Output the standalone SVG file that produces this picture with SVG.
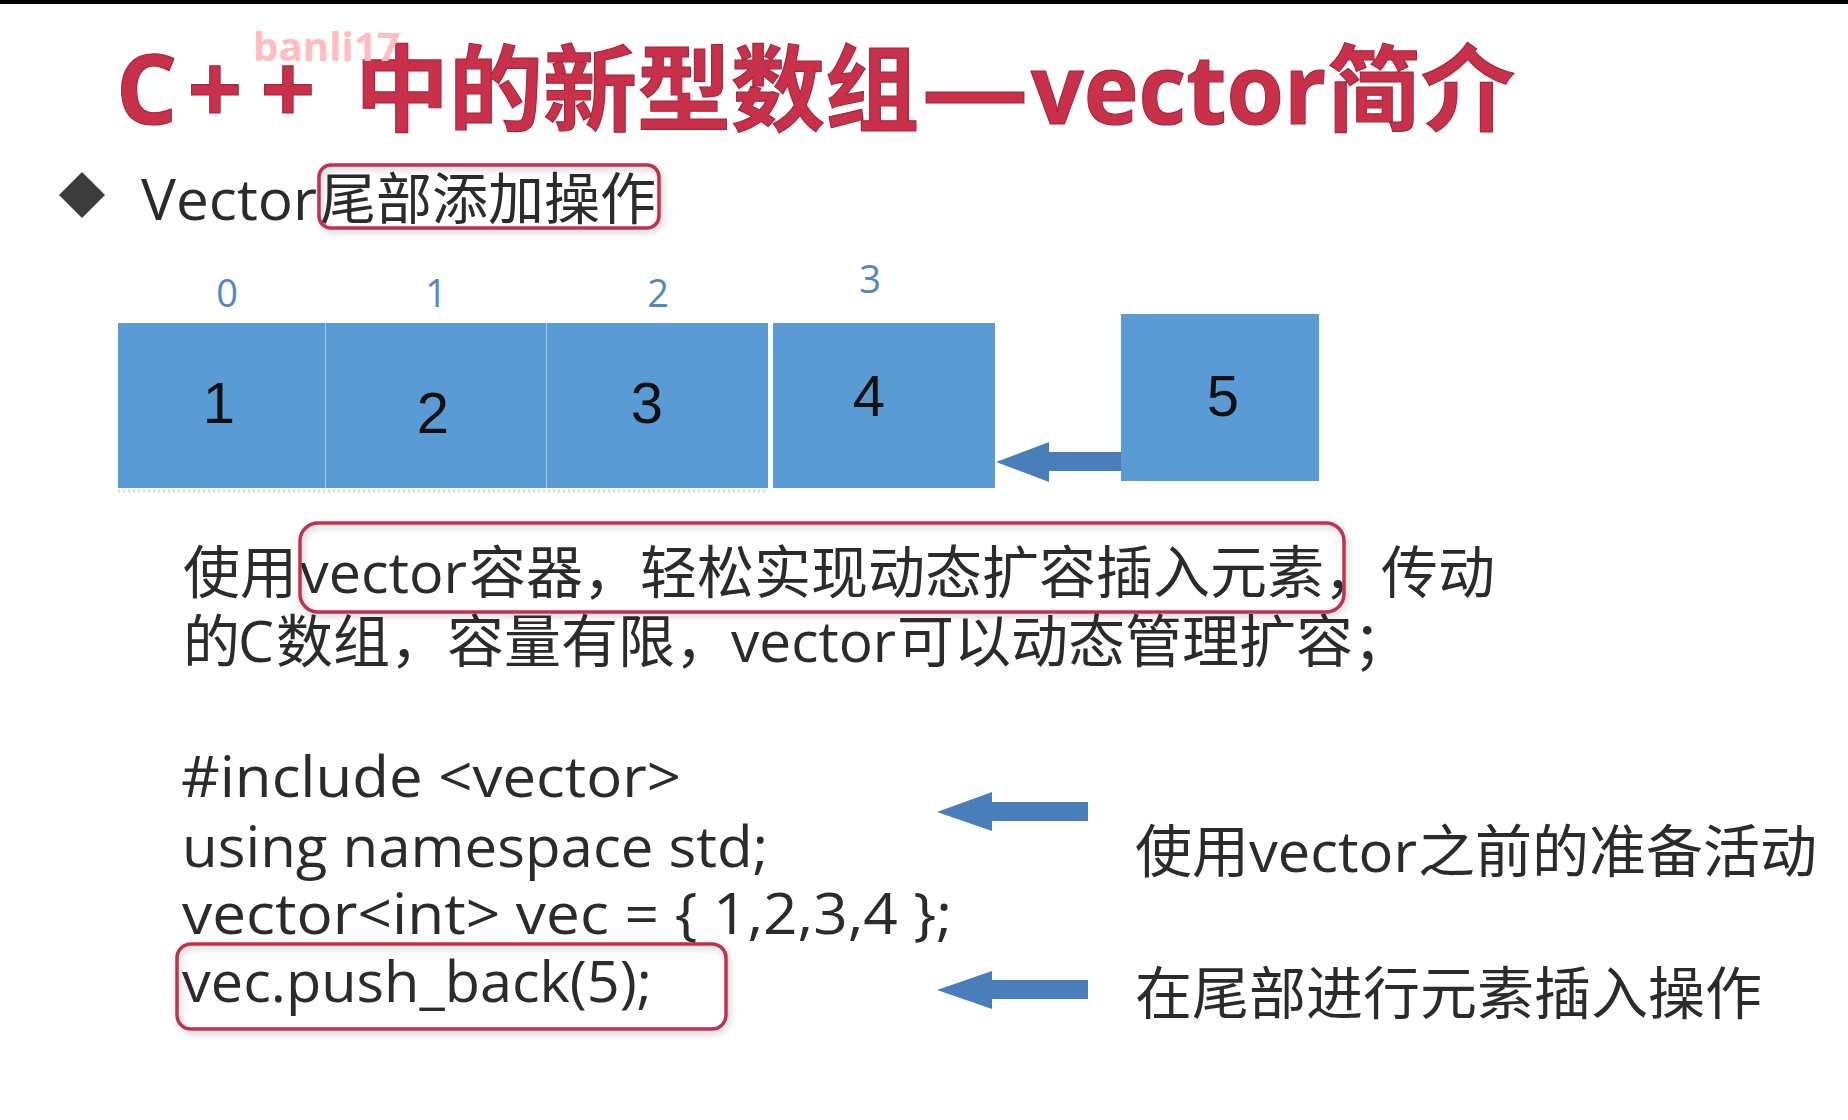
<svg xmlns="http://www.w3.org/2000/svg" width="1848" height="1120" viewBox="0 0 1848 1120">
  <defs>
    <style>
      .title { font-family: "Noto Sans CJK SC", "Open Sans", sans-serif; font-weight: 700; fill: #c9314b; stroke: #a3283d; stroke-width: 1.2; }
      .title-latin { font-family: "Open Sans", "Noto Sans CJK SC", sans-serif; font-weight: 700; fill: #c9314b; stroke: #a3283d; stroke-width: 1.2; }
      .mark { font-family: "Open Sans", "Liberation Sans", sans-serif; font-weight: 700; fill: #ffbcc1; }
      .body { font-family: "Noto Sans CJK SC", sans-serif; fill: #2b2b2b; }
      .latin { font-family: "Open Sans", "Noto Sans CJK SC", sans-serif; fill: #2b2b2b; }
      .idx { font-family: "Open Sans", "Liberation Sans", sans-serif; fill: #4f87c7; font-size: 38px; text-anchor: middle; }
      .val { font-family: "Liberation Sans", Arial, sans-serif; fill: #111111; font-size: 58px; text-anchor: middle; }
      .cell { fill: #5b9bd5; }
      .hl { fill: none; stroke: #c0304c; stroke-width: 3.5; }
      .arrow { fill: #4a7ebb; }
    </style>
    <filter id="soft" x="-5%" y="-20%" width="110%" height="140%">
      <feDropShadow dx="2" dy="3" stdDeviation="3" flood-color="#000000" flood-opacity="0.22"/>
    </filter>
  </defs>

  <rect x="0" y="0" width="1848" height="1120" fill="#ffffff"/>
  <rect x="0" y="0" width="1848" height="4" fill="#000000"/>

  <!-- heading -->
  <g id="title">
    <text class="title-latin" x="116" y="124" font-size="96">C</text>
    <text class="title-latin" x="215" y="124" font-size="96" text-anchor="middle">+</text>
    <text class="title-latin" x="288" y="124" font-size="96" text-anchor="middle">+</text>
    <text class="title" x="355" y="124" font-size="94">中的新型数组</text>
    <text class="title-latin" x="922" y="124" font-size="96" textLength="106" lengthAdjust="spacingAndGlyphs">—</text>
    <text class="title-latin" x="1031" y="124" font-size="96" textLength="295" lengthAdjust="spacingAndGlyphs">vector</text>
    <text class="title" x="1327" y="124" font-size="94">简介</text>
  </g>
  <g id="watermark">
    <text class="mark" x="253" y="61" font-size="40" textLength="147" lengthAdjust="spacingAndGlyphs">banli17</text>
  </g>

  <!-- bullet line -->
  <g id="bullet">
    <polygon points="82,172 105,195 82,218 59,195" fill="#3c3c3c"/>
    <text class="latin" x="141" y="220" font-size="56" fill="#333333" textLength="176" lengthAdjust="spacingAndGlyphs">Vector</text>
    <text class="body" x="320" y="219" font-size="56" fill="#333333">尾部添加操作</text>
    <rect class="hl" x="319" y="165" width="340" height="63" rx="12" filter="url(#soft)"/>
  </g>

  <!-- array cells -->
  <g id="cell-0">
    <rect class="cell" x="118" y="323" width="207" height="165"/>
    <text class="idx" x="227" y="307">0</text>
    <text class="val" x="219" y="423">1</text>
  </g>
  <g id="cell-1">
    <rect class="cell" x="325" y="323" width="221" height="165"/>
    <text class="idx" x="436" y="307">1</text>
    <text class="val" x="433" y="433">2</text>
  </g>
  <g id="cell-2">
    <rect class="cell" x="546" y="323" width="222" height="165"/>
    <text class="idx" x="658" y="307">2</text>
    <text class="val" x="647" y="423">3</text>
  </g>
  <g id="cell-dividers">
    <line x1="325.5" y1="323" x2="325.5" y2="488" stroke="#9cc3e8" stroke-width="1.2"/>
    <line x1="546.5" y1="323" x2="546.5" y2="488" stroke="#9cc3e8" stroke-width="1.2"/>
    <line x1="118" y1="491" x2="768" y2="491" stroke="#a9c4e2" stroke-width="3" stroke-dasharray="2 3" opacity="0.6"/>
  </g>
  <g id="cell-3">
    <rect class="cell" x="773" y="323" width="222" height="165"/>
    <text class="idx" x="870" y="293">3</text>
    <text class="val" x="869" y="416">4</text>
  </g>
  <g id="cell-new">
    <rect class="cell" x="1121" y="314" width="198" height="167"/>
    <text class="val" x="1223" y="416">5</text>
  </g>

  <!-- explanation -->
  <g id="note-text">
    <text class="body" x="183" y="593" font-size="57">使用</text>
    <text class="latin" x="300" y="593" font-size="57" textLength="167" lengthAdjust="spacingAndGlyphs">vector</text>
    <text class="body" x="469" y="593" font-size="57">容器，轻松实现动态扩容插入元素，传动</text>
    <rect class="hl" x="300" y="523" width="1044" height="89" rx="18" filter="url(#soft)"/>
    <text class="body" x="183" y="662" font-size="57">的</text>
    <text class="latin" x="238" y="662" font-size="57" textLength="36" lengthAdjust="spacingAndGlyphs">C</text>
    <text class="body" x="276" y="662" font-size="57">数组，容量有限，</text>
    <text class="latin" x="731" y="662" font-size="57" textLength="165" lengthAdjust="spacingAndGlyphs">vector</text>
    <text class="body" x="897" y="662" font-size="57">可以动态管理扩容；</text>
  </g>

  <!-- code sample -->
  <g id="code">
    <text class="latin" x="181" y="797" font-size="56" textLength="500" lengthAdjust="spacingAndGlyphs">#include &lt;vector&gt;</text>
    <text class="latin" x="182" y="867" font-size="56" textLength="586" lengthAdjust="spacingAndGlyphs">using namespace std;</text>
    <text class="latin" x="182" y="934" font-size="56" textLength="770" lengthAdjust="spacingAndGlyphs">vector&lt;int&gt; vec = { 1,2,3,4 };</text>
    <text class="latin" x="182" y="1002" font-size="56" textLength="470" lengthAdjust="spacingAndGlyphs">vec.push_back(5);</text>
    <rect class="hl" x="177" y="944" width="549" height="85" rx="14" filter="url(#soft)"/>
  </g>

  <!-- side notes -->
  <g id="note-prepare">
    <text class="body" x="1135" y="872" font-size="57">使用</text>
    <text class="latin" x="1249" y="872" font-size="57" textLength="168" lengthAdjust="spacingAndGlyphs">vector</text>
    <text class="body" x="1418" y="872" font-size="57">之前的准备活动</text>
  </g>
  <g id="note-append">
    <text class="body" x="1135" y="1014" font-size="57">在尾部进行元素插入操作</text>
  </g>

  <!-- arrows -->
  <g id="connectors">
    <polygon class="arrow" points="996,462 1049,442 1049,452 1121,452 1121,471 1049,471 1049,482"/>
    <polygon class="arrow" points="937,812 992,792 992,802 1088,802 1088,821 992,821 992,831"/>
    <polygon class="arrow" points="937,990 992,971 992,980 1088,980 1088,999 992,999 992,1009"/>
  </g>
</svg>
